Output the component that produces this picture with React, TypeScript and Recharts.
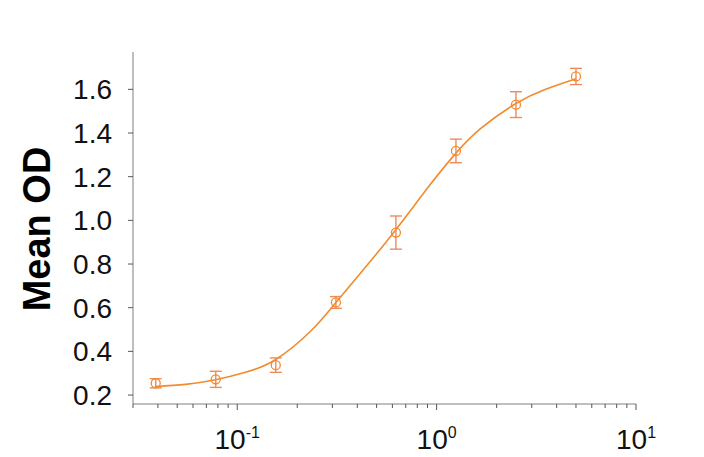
import React from "react";
import { ComposedChart, Line, Scatter, ErrorBar, XAxis, YAxis, Label } from "recharts";

// measured points (concentration vs mean OD, +/- SD)
const CONC = [0.039, 0.078, 0.156, 0.3125, 0.625, 1.25, 2.5, 5];
const MEAN_OD = [0.254, 0.272, 0.337, 0.624, 0.944, 1.318, 1.53, 1.659];
const SD = [0.021, 0.037, 0.033, 0.027, 0.076, 0.054, 0.059, 0.037];

// fitted curve
const FIT_X = [0.039, 0.055, 0.078, 0.11, 0.156, 0.233, 0.3125, 0.44, 0.63, 0.933, 1.25, 1.66, 2.5, 3.5, 5];
const FIT_Y = [0.239, 0.249, 0.27, 0.304, 0.363, 0.492, 0.624, 0.786, 0.962, 1.166, 1.308, 1.42, 1.535, 1.599, 1.648];

const X_TICKS = [
  0.03, 0.04, 0.05, 0.06, 0.07, 0.08, 0.09, 0.1,
  0.2, 0.3, 0.4, 0.5, 0.6, 0.7, 0.8, 0.9, 1,
  2, 3, 4, 5, 6, 7, 8, 9, 10,
];
const Y_TICKS = [0.2, 0.4, 0.6, 0.8, 1.0, 1.2, 1.4, 1.6];

const points = CONC.map((x, i) => ({ x, y: MEAN_OD[i], sd: SD[i] }));
const fit = FIT_X.map((x, i) => ({ x, y: FIT_Y[i] }));

const FONT = '"Liberation Sans", Arial, sans-serif';
const ORANGE = "#F28A2E";
const ERR = "#EE8A5C";
const AXIS = "#7f7f7f";

function LogTick(props: any) {
  const { x, y, payload } = props;
  const v = payload.value;
  const lg = Math.log10(v);
  const exp = Math.round(lg);
  const major = Math.abs(lg - exp) < 1e-6;
  return (
    <g>
      <line x1={x} x2={x} y1={y} y2={y + (major ? 6 : 4)} stroke="#555" strokeWidth={1} />
      {major && (
        <text x={x} y={y + 45} textAnchor="middle" fontSize={28} fontFamily={FONT} fill="#111">
          <tspan>10</tspan>
          <tspan dy={-11} fontSize={16}>{exp}</tspan>
        </text>
      )}
    </g>
  );
}

function Dot(props: any) {
  const { cx, cy } = props;
  return <circle cx={cx} cy={cy} r={4.5} fill="none" stroke={ORANGE} strokeWidth={1.3} />;
}

function YTitle() {
  return (
    <text
      transform="translate(50,229) rotate(-90)"
      textAnchor="middle"
      fontSize={38}
      fontWeight="bold"
      fontFamily={FONT}
      fill="#000"
    >
      Mean OD
    </text>
  );
}

export default function App() {
  return (
    <div style={{ position: "absolute", left: 0, top: 0, background: "#fff" }}>
      <ComposedChart width={704} height={457} margin={{ top: 52, right: 68, bottom: 0, left: 0 }}>
        <XAxis
          dataKey="x"
          type="number"
          scale="log"
          domain={[0.03, 10]}
          allowDataOverflow
          ticks={X_TICKS}
          interval={0}
          tick={<LogTick />}
          tickLine={false}
          tickSize={0}
          tickMargin={0}
          height={53}
          stroke={AXIS}
        />
        <YAxis
          type="number"
          domain={[0.159, 1.771]}
          allowDataOverflow
          ticks={Y_TICKS}
          interval={0}
          width={133}
          tickSize={5}
          tickMargin={16}
          tickFormatter={(v: number) => v.toFixed(1)}
          tick={{ fontSize: 28, fontFamily: FONT, fill: "#111" }}
          tickLine={{ stroke: "#555" }}
          stroke={AXIS}
        >
          <Label content={<YTitle />} />
        </YAxis>
        <Line
          data={fit}
          dataKey="y"
          type="natural"
          stroke={ORANGE}
          strokeWidth={1.6}
          dot={false}
          activeDot={false}
          isAnimationActive={false}
        />
        <Scatter data={points} dataKey="y" shape={<Dot />} isAnimationActive={false}>
          <ErrorBar dataKey="sd" direction="y" width={6} stroke={ERR} strokeWidth={1.4} />
        </Scatter>
      </ComposedChart>
    </div>
  );
}
